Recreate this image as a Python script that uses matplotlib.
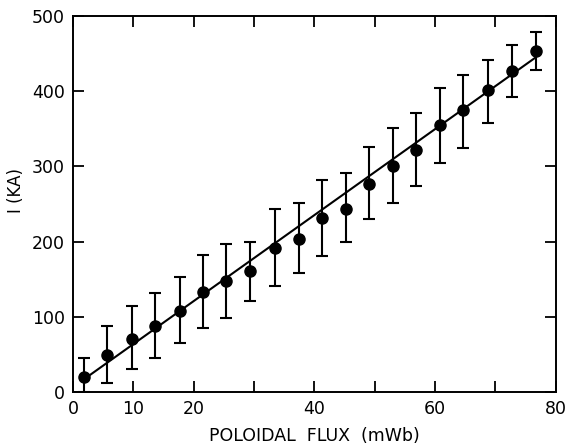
import matplotlib
matplotlib.use("Agg")
import matplotlib.pyplot as plt
import numpy as np

flux = [1.8, 5.7, 9.8, 13.6, 17.7, 21.6, 25.4, 29.3, 33.5, 37.4,
        41.2, 45.2, 49.0, 53.0, 56.9, 60.9, 64.7, 68.8, 72.8, 76.7]
current = [20, 49, 70, 88, 108, 133, 148, 161, 192, 204,
           231, 244, 277, 301, 322, 355, 375, 401, 427, 453]
err_low = [20, 37, 40, 43, 43, 48, 49, 40, 51, 46,
           50, 45, 47, 49, 48, 50, 50, 43, 34, 25]
err_high = [25, 39, 44, 44, 45, 49, 49, 38, 51, 48,
            51, 47, 49, 50, 49, 49, 47, 40, 34, 26]

fit_x = [2.7, 76.5]
fit_y = [22, 444]

xticks = [0, 10, 20, 30, 40, 50, 60, 70, 80]
xtick_labels = ["0", "10", "20", "", "40", "", "60", "", "80"]
yticks = [0, 100, 200, 300, 400, 500]

fig = plt.figure(figsize=(5.7, 4.46), dpi=100)
ax = fig.add_axes([0.128, 0.121, 0.847, 0.843])

ax.plot(fit_x, fit_y, color="black", lw=1.5)
ax.errorbar(flux, current, yerr=[err_low, err_high], fmt="o", color="black",
            ms=8, ecolor="black", elinewidth=1.5, capsize=4.5, capthick=1.5,
            clip_on=True)

ax.set_xlim(0, 80)
ax.set_ylim(0, 500)
ax.set_xticks(xticks)
ax.set_xticklabels(xtick_labels)
ax.set_yticks(yticks)
ax.tick_params(direction="in", length=8, width=1.3, top=True, right=True,
               labelsize=12.5, pad=6)
for s in ax.spines.values():
    s.set_linewidth(1.4)

ax.set_xlabel("POLOIDAL  FLUX  (mWb)", fontsize=12.5, labelpad=6)
ax.set_ylabel("I (KA)", fontsize=12)
ax.yaxis.set_label_coords(-0.10, 0.535)

fig.savefig("out.png", dpi=100)
